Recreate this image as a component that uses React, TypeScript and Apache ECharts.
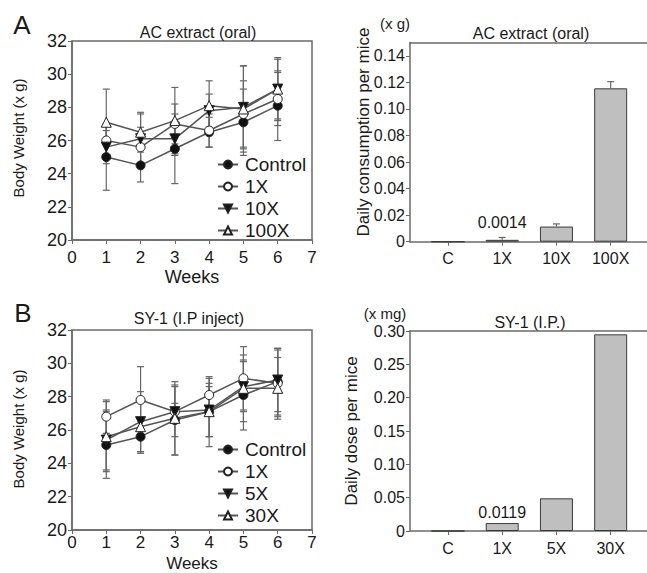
import React, { useEffect, useRef } from "react";
import * as echarts from "echarts";

// ---------- data ----------
const weeks = [1, 2, 3, 4, 5, 6];

// Panel A (AC extract, oral) body weight
const acNames = ["Control", "1X", "10X", "100X"];
const acControl = [25.0, 24.5, 25.5, 26.5, 27.1, 28.1];
const acControlErr = [2.0, 1.0, 2.1, 0.9, 2.0, 2.1];
const ac1X = [26.0, 25.6, 27.0, 26.6, 27.6, 28.5];
const ac1XErr = [1.0, 1.2, 1.2, 1.0, 2.0, 1.6];
const ac10X = [25.6, 26.1, 26.1, 27.8, 28.0, 29.1];
const ac10XErr = [1.0, 1.5, 1.0, 1.0, 2.5, 1.8];
const ac100X = [27.1, 26.5, 27.2, 28.1, 27.9, 29.1];
const ac100XErr = [2.0, 1.2, 2.0, 1.5, 2.6, 1.9];

// Panel B (SY-1, I.P inject) body weight
const syNames = ["Control", "1X", "5X", "30X"];
const syControl = [25.1, 25.6, 26.6, 27.1, 28.1, 28.9];
const syControlErr = [2.0, 1.0, 2.1, 2.1, 2.1, 2.0];
const sy1X = [26.8, 27.8, 27.1, 28.1, 29.1, 28.8];
const sy1XErr = [1.0, 2.0, 0.5, 1.0, 1.9, 2.0];
const sy5X = [25.4, 26.5, 27.1, 27.2, 28.6, 29.0];
const sy5XErr = [1.8, 1.8, 1.5, 1.6, 1.5, 1.9];
const sy30X = [25.6, 26.2, 26.7, 27.1, 28.5, 28.5];
const sy30XErr = [2.1, 1.5, 2.2, 1.5, 2.0, 1.85];

// bar panels
const acCats = ["C", "1X", "10X", "100X"];
const acDaily = [0, 0.0014, 0.0114, 0.1155];
const acDailyErr = [0, 0.0018, 0.002, 0.005];
const acDailyTicks = [0, 0.02, 0.04, 0.06, 0.08, 0.1, 0.12, 0.14];

const syCats = ["C", "1X", "5X", "30X"];
const syDaily = [0, 0.0119, 0.049, 0.295];
const syDailyTicks = [0, 0.05, 0.1, 0.15, 0.2, 0.25, 0.3];

const FONT = "'Liberation Sans', Arial, Helvetica, sans-serif";
const TXT = "#1a1a1a";
const AX = "#6a6a6a";
const LINE = "#555";

function fmtBar(v: number, dec: number) {
  return v === 0 ? "0" : v.toFixed(dec);
}

export default function App() {
  const ref = useRef<HTMLDivElement>(null);

  useEffect(() => {
    document.body.style.margin = "0";
    if (!ref.current) return;
    const chart = echarts.init(ref.current, undefined, { renderer: "svg" });

    const symbols = [
      { symbol: "circle", fill: "#111", rotate: 0 },
      { symbol: "circle", fill: "#fff", rotate: 0 },
      { symbol: "triangle", fill: "#111", rotate: 180 },
      { symbol: "triangle", fill: "#fff", rotate: 0 },
    ];

    const errSeries = (
      vals: number[],
      errs: number[],
      xi: number,
      yi: number,
      capWidth: number,
      upperOnly: boolean,
      xs: number[]
    ) => ({
      type: "custom",
      xAxisIndex: xi,
      yAxisIndex: yi,
      z: 1,
      silent: true,
      data: vals.map((v, i) => [xs[i], upperOnly ? v : v - errs[i], v + errs[i]]),
      encode: { x: 0, y: [1, 2] },
      renderItem: (params: any, api: any) => {
        const x = api.value(0);
        const lo = api.coord([x, api.value(1)]);
        const hi = api.coord([x, api.value(2)]);
        const hw = capWidth / 2;
        const st = { stroke: "#666", lineWidth: 1.2 };
        const children: any[] = [
          { type: "line", shape: { x1: lo[0], y1: lo[1], x2: hi[0], y2: hi[1] }, style: st },
          { type: "line", shape: { x1: hi[0] - hw, y1: hi[1], x2: hi[0] + hw, y2: hi[1] }, style: st },
        ];
        if (!upperOnly) {
          children.push({
            type: "line",
            shape: { x1: lo[0] - hw, y1: lo[1], x2: lo[0] + hw, y2: lo[1] },
            style: st,
          });
        }
        return { type: "group", children };
      },
    });

    const lineSeries = (name: string, vals: number[], k: number, xi: number, yi: number) => ({
      type: "line",
      name,
      xAxisIndex: xi,
      yAxisIndex: yi,
      z: 3,
      data: vals.map((v, i) => [weeks[i], v]),
      symbol: symbols[k].symbol,
      symbolRotate: symbols[k].rotate,
      symbolSize: k >= 2 ? 10 : 9,
      showSymbol: true,
      lineStyle: { color: LINE, width: 1.5 },
      itemStyle: { color: symbols[k].fill, borderColor: "#222", borderWidth: 1 },
    });

    const lineXAxis = (gi: number, margin: number) => ({
      type: "value",
      gridIndex: gi,
      min: 0,
      max: 7,
      interval: 1,
      axisLine: { show: true, lineStyle: { color: AX, width: 1.5 } },
      axisTick: { show: true, inside: false, length: 4, lineStyle: { color: AX } },
      axisLabel: { color: TXT, fontSize: 17, fontFamily: FONT, margin },
      splitLine: { show: false },
    });
    const lineYAxis = (gi: number) => ({
      type: "value",
      gridIndex: gi,
      min: 20,
      max: 32,
      interval: 2,
      axisLine: { show: true, lineStyle: { color: AX, width: 1.5 } },
      axisTick: { show: true, inside: false, length: 4, lineStyle: { color: AX } },
      axisLabel: { color: TXT, fontSize: 18, fontFamily: FONT, margin: 5 },
      splitLine: { show: false },
    });
    const barXAxis = (gi: number, cats: string[]) => ({
      type: "value",
      gridIndex: gi,
      min: 0.3,
      max: 4.67,
      axisLine: { show: true, lineStyle: { color: AX, width: 1.5 } },
      axisTick: { show: true, length: 4, customValues: [1, 2, 3, 4], lineStyle: { color: AX } },
      axisLabel: {
        color: TXT,
        fontSize: 16,
        fontFamily: FONT,
        margin: 9,
        customValues: [1, 2, 3, 4],
        formatter: (v: number) => cats[Math.round(v) - 1] ?? "",
      },
      splitLine: { show: false },
    });
    const topLine = (gi: number) => ({
      type: "value",
      gridIndex: gi,
      position: "top",
      min: 0,
      max: 1,
      axisLine: { show: true, lineStyle: { color: AX, width: 1.5 } },
      axisTick: { show: false },
      axisLabel: { show: false },
      splitLine: { show: false },
    });
    const barYAxis = (gi: number, max: number, ticks: number[], dec: number) => ({
      type: "value",
      gridIndex: gi,
      min: 0,
      max,
      axisLine: { show: true, lineStyle: { color: AX, width: 1.5 } },
      axisTick: { show: true, length: 4, customValues: ticks, lineStyle: { color: AX } },
      axisLabel: {
        color: TXT,
        fontSize: 16,
        fontFamily: FONT,
        margin: 5,
        customValues: ticks,
        formatter: (v: number) => fmtBar(v, dec),
      },
      splitLine: { show: false },
    });

    const barSeries = (vals: number[], xi: number, yi: number, labelDist: number) => ({
      type: "bar",
      xAxisIndex: xi,
      yAxisIndex: yi,
      barWidth: 33,
      z: 2,
      itemStyle: { color: "#bfbfbf", borderColor: "#3a3a3a", borderWidth: 1 },
      data: vals.map((v, i) =>
        i === 1
          ? {
              value: [i + 1, v],
              label: {
                show: true,
                position: "top",
                distance: labelDist,
                formatter: String(v),
                color: TXT,
                fontSize: 16,
                fontFamily: FONT,
              },
            }
          : { value: [i + 1, v] }
      ),
    });

    const legend = (names: string[], top: number) => ({
      orient: "vertical",
      left: 212,
      top,
      itemWidth: 20,
      itemHeight: 10,
      itemGap: 3,
      selectedMode: false,
      textStyle: { color: TXT, fontSize: 19, fontFamily: FONT, padding: [0, 0, 0, 2] },
      data: names,
    });

    const txt = (
      text: string,
      x: number,
      y: number,
      size: number,
      rotation = 0,
      align = "center"
    ) => ({
      type: "text",
      x,
      y,
      rotation,
      style: {
        text,
        fill: TXT,
        font: `${size}px ${FONT}`,
        textAlign: align,
        textVerticalAlign: "middle",
      },
    });

    const option: any = {
      animation: false,
      backgroundColor: "#fff",
      grid: [
        { left: 72, top: 41, width: 240, height: 199, show: true, borderColor: AX, borderWidth: 1.5 },
        { left: 410, top: 42.5, right: 0, height: 199.2 },
        { left: 72, top: 330, width: 240, height: 200, show: true, borderColor: AX, borderWidth: 1.5 },
        { left: 410, top: 331, right: 0, height: 200 },
      ],
      xAxis: [
        lineXAxis(0, 9),
        barXAxis(1, acCats),
        lineXAxis(2, 4),
        barXAxis(3, syCats),
        topLine(1),
        topLine(3),
      ],
      yAxis: [
        lineYAxis(0),
        barYAxis(1, 0.15, acDailyTicks, 2),
        lineYAxis(2),
        barYAxis(3, 0.3, syDailyTicks, 2),
      ],
      legend: [legend(acNames, 150), legend(syNames, 435)],
      series: [
        errSeries(acControl, acControlErr, 0, 0, 7, false, weeks),
        errSeries(ac1X, ac1XErr, 0, 0, 7, false, weeks),
        errSeries(ac10X, ac10XErr, 0, 0, 7, false, weeks),
        errSeries(ac100X, ac100XErr, 0, 0, 7, false, weeks),
        lineSeries(acNames[0], acControl, 0, 0, 0),
        lineSeries(acNames[1], ac1X, 1, 0, 0),
        lineSeries(acNames[2], ac10X, 2, 0, 0),
        lineSeries(acNames[3], ac100X, 3, 0, 0),

        errSeries(syControl, syControlErr, 2, 2, 7, false, weeks),
        errSeries(sy1X, sy1XErr, 2, 2, 7, false, weeks),
        errSeries(sy5X, sy5XErr, 2, 2, 7, false, weeks),
        errSeries(sy30X, sy30XErr, 2, 2, 7, false, weeks),
        lineSeries(syNames[0], syControl, 0, 2, 2),
        lineSeries(syNames[1], sy1X, 1, 2, 2),
        lineSeries(syNames[2], sy5X, 2, 2, 2),
        lineSeries(syNames[3], sy30X, 3, 2, 2),

        barSeries(acDaily, 1, 1, 9),
        errSeries(acDaily, acDailyErr, 1, 1, 7, true, [1, 2, 3, 4]),
        barSeries(syDaily, 3, 3, 3),
      ],
      graphic: [
        txt("A", 22, 25, 26),
        txt("B", 23, 313, 26),
        txt("AC extract (oral)", 198, 32, 16),
        txt("AC extract (oral)", 531, 33, 16),
        txt("SY-1 (I.P inject)", 189, 318, 16),
        txt("SY-1 (I.P.)", 530, 322, 16),
        txt("(x g)", 395, 23, 15),
        txt("(x mg)", 385, 313, 15),
        txt("Weeks", 192, 277, 18),
        txt("Weeks", 192, 563, 17),
        txt("Body Weight (x g)", 18, 138, 15, Math.PI / 2),
        txt("Body Weight (x g)", 18, 429, 15, Math.PI / 2),
        txt("Daily consumption per mice", 363, 132, 17, Math.PI / 2),
        txt("Daily dose per mice", 351, 431, 17, Math.PI / 2),
      ],
    };

    chart.setOption(option);
    return () => chart.dispose();
  }, []);

  return <div ref={ref} style={{ width: 647, height: 573 }} />;
}
